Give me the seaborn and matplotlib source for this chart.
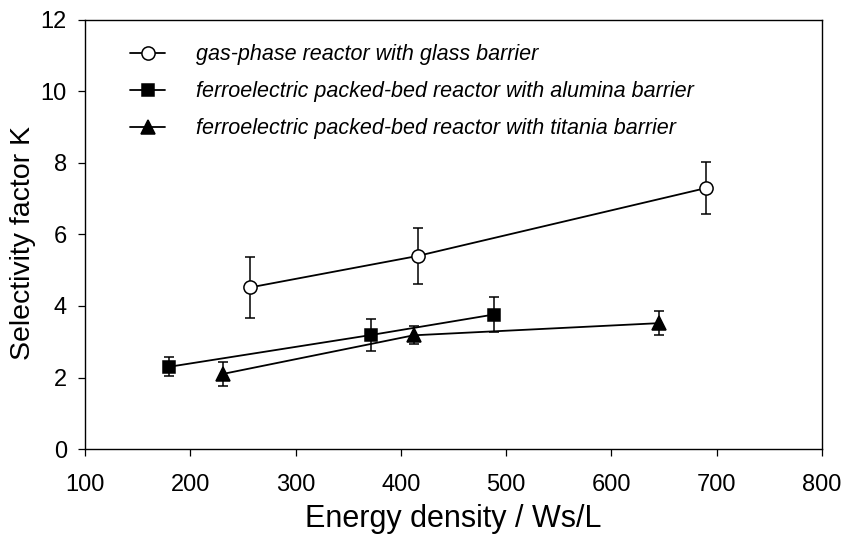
import matplotlib
matplotlib.use("Agg")
import matplotlib.pyplot as plt
import seaborn as sns
import pandas as pd

series_names = [
    "gas-phase reactor with glass barrier",
    "ferroelectric packed-bed reactor with alumina barrier",
    "ferroelectric packed-bed reactor with titania barrier",
]
gas_x = [257, 416, 690]
gas_y = [4.52, 5.40, 7.30]
gas_err = [0.85, 0.78, 0.72]
alu_x = [180, 372, 488]
alu_y = [2.30, 3.19, 3.76]
alu_err = [0.27, 0.45, 0.50]
tit_x = [231, 412, 645]
tit_y = [2.10, 3.18, 3.52]
tit_err = [0.34, 0.25, 0.34]

x_ticks = [100, 200, 300, 400, 500, 600, 700, 800]
y_ticks = [0, 2, 4, 6, 8, 10, 12]

sns.set_style("ticks")
plt.rcParams['font.family'] = ['Liberation Sans', 'DejaVu Sans']
plt.rcParams['text.color'] = 'black'
plt.rcParams['axes.labelcolor'] = 'black'
plt.rcParams['xtick.color'] = 'black'
plt.rcParams['ytick.color'] = 'black'

fig = plt.figure(figsize=(8.44, 5.38), dpi=100)
ax = fig.add_axes([0.1007, 0.1654, 0.8733, 0.7975])

styles = [
    dict(marker="o", mfc="white", ms=9.5),
    dict(marker="s", mfc="black", ms=8.8),
    dict(marker="^", mfc="black", ms=10),
]
data = [(gas_x, gas_y, gas_err), (alu_x, alu_y, alu_err), (tit_x, tit_y, tit_err)]

for name, (xs, ys, es), st in zip(series_names, data, styles):
    df = pd.DataFrame({"x": xs, "y": ys})
    ax.errorbar(xs, ys, yerr=es, fmt="none", ecolor="black", elinewidth=1.1,
                capsize=3.3, capthick=1.1, zorder=2)
    sns.lineplot(data=df, x="x", y="y", ax=ax, color="black", linewidth=1.3,
                 marker=st["marker"], markersize=st["ms"],
                 markerfacecolor=st["mfc"], markeredgecolor="black",
                 markeredgewidth=1.1, label=name, zorder=3, sort=False)

ax.set_xlim(100, 800)
ax.set_ylim(0, 12)
ax.set_xticks(x_ticks)
ax.set_yticks(y_ticks)
ax.tick_params(axis="both", direction="out", length=5, width=0.9,
               labelsize=17, colors="black")
ax.tick_params(axis="x", pad=13)
ax.tick_params(axis="y", pad=8)
for sp in ax.spines.values():
    sp.set_linewidth(1.0)
    sp.set_color("black")
ax.set_xlabel("Energy density / Ws/L", fontsize=22, labelpad=6, color="black")
ax.set_ylabel("Selectivity factor K", fontsize=20.5, color="black")
ax.yaxis.set_label_coords(-0.066, 0.48)

leg = ax.legend(loc="upper left", bbox_to_anchor=(0.061, 0.943), frameon=False,
                borderpad=0, borderaxespad=0,
                handlelength=1.65, handletextpad=1.4, labelspacing=0.74,
                prop={"style": "italic", "size": 15.5})
for t in leg.get_texts():
    t.set_color("black")

fig.savefig("out.png", dpi=100)
